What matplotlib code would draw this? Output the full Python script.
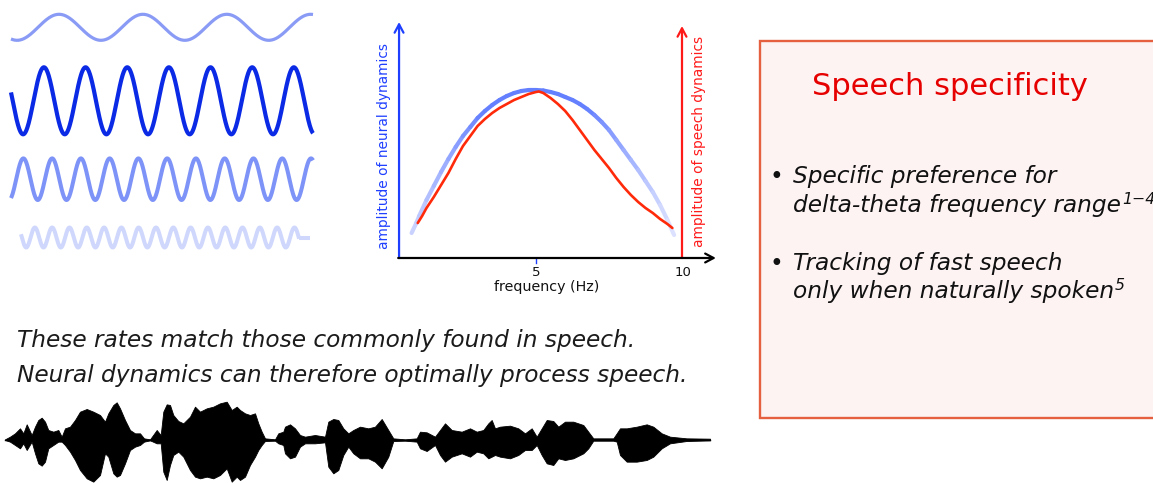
import numpy as np
import matplotlib
matplotlib.use("Agg")
import matplotlib.pyplot as plt
from matplotlib.collections import LineCollection
from matplotlib.patches import Rectangle
from matplotlib.colors import to_rgb

# ---------------- data ----------------
# oscillations (illustration): rate in Hz over a 1 s strip, amplitude, time of first peak
wave_rate_hz = [3.6, 7.25, 10.5, 17.45]
wave_amp = [13.0, 33.5, 20.8, 10.0]
wave_first_peak_s = [0.159, 0.109, 0.041, 0.079]
wave_start_s = [0.0, 0.0, 0.0, 0.033]
wave_end_s = [1.0, 1.0, 1.0, 0.954]

# amplitude spectra (frequency in Hz, amplitude in arbitrary units)
neural_freq = [0.74, 0.9, 1.0, 1.25, 1.5, 1.75, 2.0, 2.25, 2.5, 2.75, 3.0, 3.25, 3.5,
               3.75, 4.0, 4.25, 4.5, 4.75, 5.0, 5.25, 5.5, 5.75, 6.0, 6.25, 6.5, 6.75,
               7.0, 7.25, 7.5, 7.75, 8.0, 8.25, 8.5, 8.75, 9.0, 9.25, 9.5, 9.73]
neural_amp = [25, 35, 42, 58, 72, 86, 99, 111, 122, 131, 140, 147, 153,
              158, 162, 165, 167, 168, 168, 167.5, 166, 164, 161, 158, 154, 149,
              143, 136, 128, 118, 108, 98, 88, 77, 66, 53, 38, 23]
speech_freq = [0.95, 1.1, 1.25, 1.5, 1.75, 2.0, 2.25, 2.5, 2.75, 3.0, 3.25, 3.5, 3.75,
               4.0, 4.25, 4.5, 4.75, 5.0, 5.1, 5.25, 5.5, 5.75, 6.0, 6.25, 6.5, 6.75,
               7.0, 7.25, 7.5, 7.75, 8.0, 8.25, 8.5, 8.75, 9.0, 9.25, 9.5, 9.67]
speech_amp = [35, 42, 50, 61, 73, 85, 99, 112, 122, 132, 139, 145, 150,
              154, 158, 161, 164, 166, 166.5, 165, 160, 154, 147, 138, 128, 118,
              108, 99, 90, 80, 71, 63, 56, 50, 45, 39, 34, 30]
freq_ticks = [5, 10]

# speech waveform envelope (time in arbitrary units, upper / lower amplitude)
speech_t = [5, 10, 15, 20, 23.3, 26.7, 31.7, 35, 38.3, 41.7, 45, 48.3, 53.3, 58.3, 61.7,
            65, 70, 75, 80, 86.7, 93.3, 100, 105, 108.3, 113.3, 116.7, 120, 125, 130,
            135, 140, 144, 150, 156.7, 160.7, 163.3, 166.7, 170, 173.3, 178.3, 183.3,
            190, 195, 200, 206.7, 213.3, 220, 226.7, 231.7, 236.7, 240, 245, 250, 255,
            258.3, 261.7, 265, 275, 278.3, 283.3, 285, 290, 295, 300, 305, 315, 325,
            328.3, 333.3, 338.3, 343.3, 348.3, 353.3, 360, 368.3, 375, 381.7, 388.3,
            393.3, 405, 416.7, 420, 426.7, 435, 440, 445, 451.7, 461.7, 470, 476.7,
            483.3, 488.3, 491.7, 495, 500, 510, 518.3, 525, 531.7, 536.7, 541.7, 546.7,
            553.3, 558.3, 565, 573.3, 583.3, 588.3, 593.3, 613.3, 616.7, 620, 626.7,
            636.7, 646.7, 653.3, 661.7, 670, 686.7, 710]
speech_top = [133, 125, 115, 100, 115, 88, 120, 95, 75, 68, 80, 105, 110, 105, 125,
              100, 95, 75, 50, 42, 50, 60, 80, 55, 30, 22, 40, 75, 105,
              115, 115, 130, 133, 105, 120, 50, 28, 30, 60, 78, 85,
              65, 35, 50, 40, 35, 25, 20, 45, 35, 45, 55, 60, 55,
              85, 110, 130, 133, 115, 110, 95, 88, 100, 120, 125, 120, 125,
              80, 72, 75, 100, 115, 105, 95, 100, 95, 72, 105,
              130, 133, 130, 110, 112, 125, 105, 85, 105, 110, 100, 110,
              105, 85, 75, 100, 95, 92, 100, 115, 100, 125, 100, 75,
              78, 95, 80, 80, 90, 110, 130, 130, 115, 100, 100,
              95, 88, 95, 115, 125, 130, 131]
speech_bot = [135, 140, 150, 160, 145, 165, 140, 175, 205, 212, 200, 160, 150, 140, 140,
              150, 170, 195, 225, 250, 260, 240, 175, 185, 235, 245, 240, 205, 165,
              155, 150, 140, 136, 145, 145, 230, 255, 210, 180, 170, 185,
              225, 245, 250, 245, 250, 240, 220, 260, 245, 255, 245, 210, 185,
              165, 150, 138, 137, 145, 150, 175, 190, 185, 155, 145, 145, 142,
              215, 235, 225, 180, 155, 175, 190, 190, 200, 220, 185,
              138, 137, 140, 160, 168, 150, 180, 200, 185, 175, 185, 170,
              175, 190, 185, 180, 185, 190, 180, 165, 165, 150, 180, 205,
              210, 190, 195, 190, 175, 160, 137, 137, 140, 180, 200,
              200, 195, 185, 160, 145, 138, 136]

caption_lines = ["These rates match those commonly found in speech.",
                 "Neural dynamics can therefore optimally process speech."]
box_title = "Speech specificity"
bullets = [("Specific preference for", "delta-theta frequency range", "1\u22124"),
           ("Tracking of fast speech", "only when naturally spoken", "5")]

# ---------------- layout ----------------
W, H = 1153, 483
fig = plt.figure(figsize=(W / 100, H / 100), dpi=100)
fig.patch.set_facecolor("white")


def px_axes(x0, y0, x1, y1):
    return fig.add_axes([x0 / W, 1 - y1 / H, (x1 - x0) / W, (y1 - y0) / H])


ov = px_axes(0, 0, W, H)
ov.set_xlim(0, W)
ov.set_ylim(H, 0)
ov.axis("off")
renderer = fig.canvas.get_renderer()


def fit(t, target):
    bb = t.get_window_extent(renderer)
    t.set_fontsize(t.get_fontsize() * target / max(bb.width, bb.height))
    return t.get_fontsize()


# ---- oscillations ----
ax_w = px_axes(11, 0, 313, 270)
ax_w.set_xlim(0, 1)
ax_w.set_ylim(270, 0)
ax_w.axis("off")
row_centers = [27.3, 100.8, 179.2, 237.5]
wave_colors = ["#8a9bf6", "#0b2ae6", "#7e93f7", "#cfd8fc"]
wave_lw = [2.3, 3.0, 2.9, 2.9]
for i in range(4):
    t = np.linspace(wave_start_s[i], wave_end_s[i], 1200)
    y = row_centers[i] - wave_amp[i] * np.cos(2 * np.pi * wave_rate_hz[i] * (t - wave_first_peak_s[i]))
    ax_w.plot(t, y, color=wave_colors[i], lw=wave_lw[i], solid_capstyle="butt", clip_on=False)
ax_w.plot([wave_end_s[3], 0.99], [row_centers[3], row_centers[3]], color=wave_colors[3],
          lw=wave_lw[3], solid_capstyle="butt", clip_on=False)

# ---- spectra chart ----
ax = px_axes(390, 18, 720, 258)
ax.set_xlim(0, 330 / 29.2)
ax.set_ylim(0, 240)
ax.axis("off")
blue_ax = "#1f3fff"
red_ax = "#ff1a1a"
x0 = 0.31


def arrow(p0, p1, color):
    ax.annotate("", xy=p1, xytext=p0, annotation_clip=False,
                arrowprops=dict(arrowstyle="->,head_length=0.6,head_width=0.32", color=color,
                                lw=1.6, shrinkA=0, shrinkB=0, mutation_scale=10))


arrow((x0, 0), (x0, 236), blue_ax)
arrow((10.0, 0), (10.0, 232), red_ax)
arrow((x0 - 0.03, 0), (11.16, 0), "black")
ax.plot([5, 5], [-1, -5], color=blue_ax, lw=1.0, clip_on=False)

# neural curve with faded ends
nf = np.array(neural_freq, float)
na = np.array(neural_amp, float)
pts = np.column_stack([nf, na]).reshape(-1, 1, 2)
segs = np.concatenate([pts[:-1], pts[1:]], axis=1)
mid = 0.5 * (nf[:-1] + nf[1:])
w = np.clip((np.abs(mid - 5) - 1.8) / 2.8, 0, 1)
c0 = np.array(to_rgb("#6580ff"))
c1 = np.array(to_rgb("#dbe1ff"))
cols = (1 - w)[:, None] * c0 + w[:, None] * c1
lc = LineCollection(segs, colors=cols, linewidths=3.0, capstyle="round", joinstyle="round")
ax.add_collection(lc)
ax.plot(speech_freq, speech_amp, color="#ff2a0a", lw=1.9, solid_joinstyle="round",
        solid_capstyle="round", zorder=3)

for f in freq_ticks:
    ax.text(f + (0.03 if f == 10 else 0), -15, str(f), ha="center", va="center",
            fontsize=9.5, color="#111111", family="DejaVu Sans")
t_f = ax.text(5.38, -29.5, "frequency (Hz)", ha="center", va="center", fontsize=9,
              color="#111111", family="DejaVu Sans")
fit(t_f, 106)
t_n = ax.text(-0.21, 111.7, "amplitude of neural dynamics", rotation=90, ha="center",
              va="center", fontsize=9, color=blue_ax, family="DejaVu Sans")
fs_lab = fit(t_n, 207)
ax.text(10.57, 116.3, "amplitude of speech dynamics", rotation=90, ha="center",
        va="center", fontsize=fs_lab, color=red_ax, family="DejaVu Sans")

# ---- speech waveform ----
ax_s = px_axes(0, 395, 720, 483)
ax_s.set_xlim(0, 720)
ax_s.set_ylim(-131, 133)
ax_s.axis("off")
st = np.array(speech_t, float)
up = 133 - np.array(speech_top, float)
lo = 133 - np.array(speech_bot, float)
ax_s.fill_between(st, lo, up, color="black", lw=0.6, edgecolor="black")
ax_s.plot([st[0], st[-1]], [-1, -1], color="black", lw=1.0)

# ---- caption ----
t1 = ov.text(17, 347, caption_lines[0], fontsize=16, style="italic", color="#1b1b1b",
             va="baseline", family="DejaVu Sans")
fs_cap = fit(t1, 619)
ov.text(17, 382, caption_lines[1], fontsize=fs_cap, style="italic", color="#1b1b1b",
        va="baseline", family="DejaVu Sans")

# ---- box ----
ov.add_patch(Rectangle((760, 41), 420, 377, facecolor="#fdf3f3", edgecolor="#e4603e",
                       lw=1.7, zorder=0))
tt = ov.text(812, 95, box_title, fontsize=21, color="#e60000", va="baseline",
             family="DejaVu Sans")
fit(tt, 276)

baselines = [(183.3, 211.7), (270, 298.3)]
tmp = ov.text(793, 211.7, bullets[0][1], fontsize=16, style="italic", va="baseline",
              family="DejaVu Sans")
fs_b = fit(tmp, 329)
tmp.remove()
for (l1, l2, sup), (b1, b2) in zip(bullets, baselines):
    ov.text(776, b1, "\u2022", fontsize=fs_b, ha="center", va="baseline", color="#111111",
            family="DejaVu Sans")
    ov.text(793, b1, l1, fontsize=fs_b, style="italic", va="baseline", color="#111111",
            family="DejaVu Sans")
    t2 = ov.text(793, b2, l2, fontsize=fs_b, style="italic", va="baseline", color="#111111",
                 family="DejaVu Sans")
    bb = t2.get_window_extent(renderer)
    ov.text(bb.x1 + 1, b2 - 8, sup, fontsize=fs_b * 0.68, style="italic", va="baseline",
            color="#111111", family="DejaVu Sans")

fig.savefig("out.png", dpi=100, facecolor="white")
